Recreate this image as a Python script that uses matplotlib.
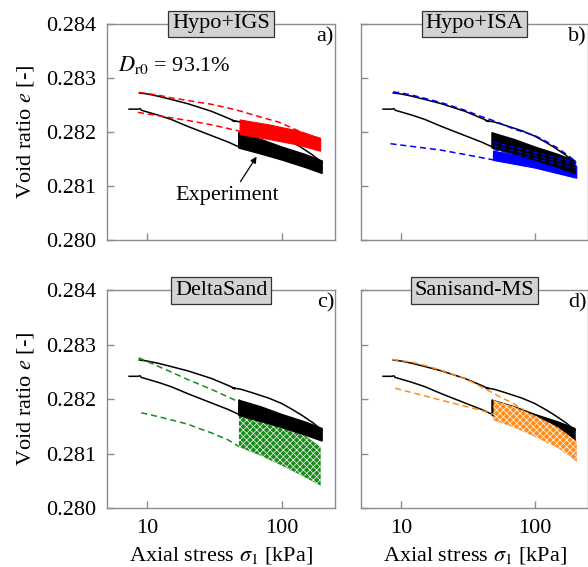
import matplotlib
matplotlib.use("Agg")
import matplotlib.pyplot as plt
from matplotlib.ticker import FixedLocator, NullLocator, FixedFormatter

plt.rcParams["font.family"] = ["Liberation Serif", "DejaVu Serif"]
plt.rcParams["mathtext.fontset"] = "stix"
plt.rcParams["font.size"] = 16
plt.rcParams["hatch.linewidth"] = 0.5

# ---------------------------------------------------------------- experiment
# monotonic loading path up to the start of the cycles
exp_load_sigma = [7.3, 8.5, 8.8, 9.0, 12, 15, 20, 30, 40, 48, 48]
exp_load_e = [0.28242, 0.28242, 0.28243, 0.28240, 0.28231, 0.28223,
              0.28210, 0.28193, 0.28181, 0.28172, 0.28198]
# envelope of the cyclic band (50 -> 200 kPa)
exp_band_top_sigma = [48, 70, 100, 150, 200]
exp_band_top_e = [0.28198, 0.28186, 0.28172, 0.28158, 0.28146]
exp_band_bot_sigma = [48, 70, 100, 150, 200]
exp_band_bot_e = [0.28170, 0.28159, 0.28148, 0.28134, 0.28123]
# unloading path after the cycles
exp_unload_sigma = [200, 170, 140, 120, 100, 80, 60, 50, 43, 45, 41, 30,
                    20, 15, 12, 10, 8.7]
exp_unload_e = [0.28143, 0.28157, 0.28171, 0.28181, 0.28192, 0.28202,
                0.28212, 0.28218, 0.28221, 0.28219, 0.28224, 0.28238,
                0.28252, 0.28260, 0.28266, 0.28270, 0.28272]

# ---------------------------------------------------------------- simulations
panels = ["Hypo+IGS", "Hypo+ISA", "DeltaSand", "Sanisand-MS"]
letters = ["a)", "b)", "c)", "d)"]
colors = ["#ff0000", "#0000ff", "#1a8a1a", "#ff8c1a"]

# dashed paths before / after the cycles
sim_path1_sigma = [
    [8.5, 15, 20, 30, 49],
    [8.3, 15, 20, 30, 49],
    [8.6, 15, 20, 30, 48],
    [8.6, 12, 15, 20, 30, 44, 55, 68, 82],
]
sim_path1_e = [
    [0.28236, 0.28226, 0.28221, 0.28213, 0.28201],
    [0.28178, 0.28170, 0.28166, 0.28158, 0.28148],
    [0.28276, 0.28250, 0.28236, 0.28218, 0.28195],
    [0.28273, 0.28268, 0.28262, 0.28253, 0.28238, 0.28217, 0.28204,
     0.28193, 0.28181],
]
sim_path2_sigma = [
    [8.7, 12, 15, 20, 25, 30, 40, 50, 60, 75, 95, 110, 130, 160, 195],
    [8.7, 10, 12, 15, 20, 30, 40, 50, 70, 100, 120, 150, 180, 205],
    [9.0, 12, 15, 20, 25, 30, 40, 48],
    [9.0, 12, 15, 20, 30, 40, 49],
]
sim_path2_e = [
    [0.28273, 0.28268, 0.28263, 0.28258, 0.28254, 0.28251, 0.28244,
     0.28238, 0.28232, 0.28225, 0.28218, 0.28211, 0.28203, 0.28194, 0.28184],
    [0.28274, 0.28272, 0.28268, 0.28262, 0.28254, 0.28240, 0.28228,
     0.28220, 0.28205, 0.28193, 0.28183, 0.28169, 0.28155, 0.28144],
    [0.28175, 0.28168, 0.28162, 0.28154, 0.28145, 0.28138, 0.28125, 0.28113],
    [0.28220, 0.28212, 0.28206, 0.28198, 0.28187, 0.28179, 0.28172],
]
# envelope of the simulated cyclic band
sim_top_sigma = [
    [49, 80, 130, 195],
    [49, 100, 206],
    [48, 70, 100, 140, 195],
    [49, 70, 100, 150, 206],
]
sim_top_e = [
    [0.28222, 0.28213, 0.28202, 0.28188],
    [0.28164, 0.28151, 0.28136],
    [0.28195, 0.28178, 0.28160, 0.28138, 0.28112],
    [0.28198, 0.28186, 0.28170, 0.28148, 0.28122],
]
sim_bot_sigma = [
    [49, 80, 130, 195],
    [49, 100, 206],
    [48, 70, 100, 140, 195],
    [49, 70, 100, 150, 206],
]
sim_bot_e = [
    [0.28195, 0.28186, 0.28176, 0.28164],
    [0.28147, 0.28133, 0.28114],
    [0.28112, 0.28096, 0.28078, 0.28060, 0.28041],
    [0.28161, 0.28148, 0.28131, 0.28110, 0.28085],
]
band_hatch = [None, None, "xxxxx", "xxxxx"]
band_above_exp = [True, False, False, True]

# a few Hypo+ISA cycles visible on top of the measured band
isa_cycle_e50 = [0.28181, 0.28174, 0.28167]
isa_cycle_e200 = [0.28143, 0.28138, 0.28133]

xticks = [10, 100]
yticks = [0.280, 0.281, 0.282, 0.283, 0.284]

# ---------------------------------------------------------------- figure
fig = plt.figure(figsize=(5.88, 5.67), dpi=100)
rects = [
    [0.182, 0.577, 0.388, 0.381],
    [0.614, 0.577, 0.386, 0.381],
    [0.182, 0.104, 0.388, 0.384],
    [0.614, 0.104, 0.386, 0.384],
]
spine_gray = "#8c8c8c"

for i, rect in enumerate(rects):
    ax = fig.add_axes(rect)
    ax.set_xscale("log")
    ax.set_xlim(5, 250)
    ax.set_ylim(0.280, 0.284)
    c = colors[i]

    # experiment
    ax.plot(exp_load_sigma, exp_load_e, color="black", lw=1.1, zorder=3)
    ax.fill(exp_band_top_sigma + exp_band_bot_sigma[::-1],
            exp_band_top_e + exp_band_bot_e[::-1],
            color="black", lw=1.0, zorder=3)
    ax.plot(exp_unload_sigma, exp_unload_e, color="black", lw=1.1, zorder=3)

    # simulation
    z_band = 4 if band_above_exp[i] else 2
    if band_hatch[i]:
        ax.fill(sim_top_sigma[i] + sim_bot_sigma[i][::-1],
                sim_top_e[i] + sim_bot_e[i][::-1],
                facecolor=c, edgecolor="white", hatch=band_hatch[i],
                lw=0, zorder=z_band)
    else:
        ax.fill(sim_top_sigma[i] + sim_bot_sigma[i][::-1],
                sim_top_e[i] + sim_bot_e[i][::-1],
                color=c, lw=0.8, zorder=z_band)
    ax.plot(sim_path1_sigma[i], sim_path1_e[i], color=c, lw=1.1,
            dashes=(4, 2.5), zorder=5)
    ax.plot(sim_path2_sigma[i], sim_path2_e[i], color=c, lw=1.1,
            dashes=(4, 2.5), zorder=5)
    if i == 1:
        for e50, e200 in zip(isa_cycle_e50, isa_cycle_e200):
            ax.plot([49, 205], [e50, e200], color=c, lw=0.9,
                    dashes=(4, 2.5), zorder=5)

    # axes styling
    for side in ["left", "right", "top", "bottom"]:
        ax.spines[side].set_color(spine_gray)
        ax.spines[side].set_linewidth(1.0)
    ax.xaxis.set_major_locator(FixedLocator(xticks))
    ax.xaxis.set_minor_locator(NullLocator())
    ax.yaxis.set_major_locator(FixedLocator(yticks))
    ax.tick_params(direction="in", length=5, width=1.0, color=spine_gray,
                   labelsize=16, pad=8)
    if i in (0, 2):
        ax.yaxis.set_major_formatter(FixedFormatter(["%.3f" % v for v in yticks]))
        ax.set_ylabel(r"Void ratio $e$ [-]", fontsize=16, labelpad=7)
    else:
        ax.tick_params(labelleft=False)
    if i in (2, 3):
        ax.xaxis.set_major_formatter(FixedFormatter([str(v) for v in xticks]))
        ax.set_xlabel(r"Axial stress $\sigma_1$ [kPa]", fontsize=16, labelpad=5)
    else:
        ax.tick_params(labelbottom=False)

    ax.text(0.5, 1.0, panels[i], transform=ax.transAxes, ha="center",
            va="center", fontsize=16, zorder=10,
            bbox=dict(boxstyle="square,pad=0.17", facecolor="#d3d3d3",
                      edgecolor="#333333", lw=0.9))
    ax.text(0.995, 0.985, letters[i], transform=ax.transAxes, ha="right",
            va="top", fontsize=16)

    if i == 0:
        ax.text(0.048, 0.81, r"$D_\mathrm{r0}$ = 93.1%", transform=ax.transAxes,
                ha="left", va="center", fontsize=16)
        ax.annotate("Experiment", xy=(65, 0.28154), xytext=(39.5, 0.28083),
                    ha="center", va="center", fontsize=16,
                    arrowprops=dict(arrowstyle="-|>", color="black", lw=0.9,
                                    mutation_scale=9, shrinkA=1, shrinkB=0,
                                    relpos=(0.6, 1.0)))

fig.savefig("out.png", dpi=100)
